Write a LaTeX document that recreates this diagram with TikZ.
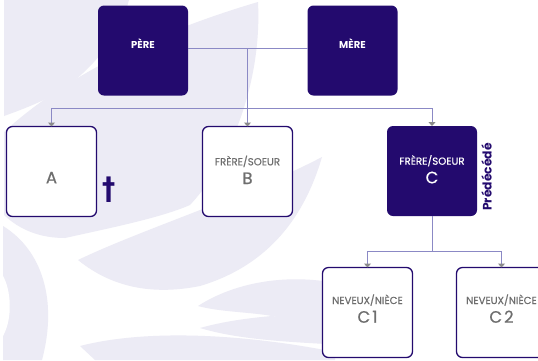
\documentclass[tikz,border=0pt]{standalone}
\usepackage{fontspec}
\setmainfont{Poppins}
\newfontfamily\medfont{Poppins}[FakeBold=0.6]
\newfontfamily\symfont{DejaVu Sans}
\usetikzlibrary{arrows.meta,calc}

\definecolor{ink}{HTML}{230A6E}
\definecolor{linkc}{HTML}{8B89C5}
\definecolor{tipc}{HTML}{8A8A8A}
\definecolor{txtgray}{HTML}{6E6E6E}
\definecolor{leaf}{HTML}{ECEBF5}

\tikzset{
  box/.style={minimum width=90pt, minimum height=90pt, inner sep=0pt, outer sep=0pt, rounded corners=6pt},
  darkbox/.style={box, fill=ink},
  lightbox/.style={box, fill=white, draw=ink, line width=1.3pt},
  link/.style={draw=linkc, line width=1pt},
  arrowlink/.style={link, -{Triangle[width=7pt,length=4pt,color=tipc]}},
  smalltxt/.style={font=\medfont\fontsize{10.2}{11}\selectfont, inner sep=0pt, anchor=base},
  bigtxt/.style={font=\medfont\fontsize{16.5}{18}\selectfont, inner sep=0pt, anchor=base},
  headtxt/.style={font=\fontsize{10}{11}\selectfont\bfseries, text=white, inner sep=0pt, anchor=base},
  leafshape/.style={fill=leaf},
}

\begin{document}
\begin{tikzpicture}[x=1pt,y=-1pt]
  \useasboundingbox (0,0) rectangle (538,360);
  \clip (0,0) rectangle (538,360);
  \fill[white] (0,0) rectangle (538,360);

  % faint tree of leaves in the background
  \fill[leafshape] (4,0) -- (129,0) .. controls (118,40) and (88,75) .. (52,96)
        .. controls (32,106) and (15,112) .. (4,116) -- cycle;
  \fill[leafshape] (258,2) .. controls (190,22) and (80,62) .. (4,132) -- (4,215)
        .. controls (20,230) and (40,238) .. (65,238)
        .. controls (110,228) and (160,218) .. (190,205)
        .. controls (232,160) and (262,80) .. (258,2) -- cycle;
  \fill[leafshape] (78,260) .. controls (140,230) and (250,195) .. (322,157)
        .. controls (305,215) and (270,265) .. (200,286)
        .. controls (150,296) and (110,286) .. (78,260) -- cycle;
  \fill[leafshape] (198,306) .. controls (235,282) and (290,272) .. (345,285)
        -- (345,330) -- (272,316) .. controls (250,312) and (220,312) .. (198,306) -- cycle;
  \fill[leafshape] (200,328) .. controls (225,321) and (250,318) .. (272,316)
        -- (345,325) -- (345,345) .. controls (290,342) and (240,340) .. (200,328) -- cycle;
  \fill[leafshape] (80,346) .. controls (150,328) and (250,335) .. (335,352)
        -- (335,360) -- (95,360) -- cycle;
  \fill[leafshape] (3,226) .. controls (42,250) and (58,300) .. (42,360) -- (3,360) -- cycle;
  \fill[white] (3,276) .. controls (11,290) and (13,318) .. (3,336) -- cycle;

  % parents
  \node[darkbox] (pere) at (143,50.5) {};
  \node[darkbox] (mere) at (352.5,50.5) {};
  \node[headtxt] (pere-t) at (143,48.3) {PÈRE};
  \node[headtxt] (mere-t) at (352.5,48) {MÈRE};

  % children
  \node[lightbox] (a) at (51.5,171.5) {};
  \node[lightbox] (b) at (247.5,171.5) {};
  \node[darkbox] (c) at (432,171) {};
  \node[bigtxt, text=txtgray] (a-t) at (51.5,183.3) {A};
  \node[smalltxt, text=txtgray] (b-l) at (247.5,165.3) {FRÈRE/SOEUR};
  \node[bigtxt, text=txtgray] (b-t) at (247.5,184) {B};
  \node[smalltxt, text=white] (c-l) at (432,164.7) {FRÈRE/SOEUR};
  \node[bigtxt, text=white] (c-t) at (432,183.3) {C};

  % deceased markers
  \node[inner sep=0pt, text=ink, xscale=0.85, font=\symfont\bfseries\fontsize{31}{33}\selectfont] (cross) at (109.5,190) {†};
  \node[inner sep=0pt, text=ink, rotate=90, font=\fontsize{12.3}{14}\selectfont\bfseries] (pred) at (486.5,177) {Prédécédé};

  % grandchildren
  \node[lightbox] (c1) at (367.5,312.5) {};
  \node[lightbox] (c2) at (501.5,312.5) {};
  \node[smalltxt, text=txtgray] (c1-l) at (367.5,304) {NEVEUX/NIÈCE};
  \node[bigtxt, text=txtgray] (c1-t) at (367.5,322.7) {C\kern2pt1};
  \node[smalltxt, text=txtgray] (c2-l) at (501.5,304) {NEVEUX/NIÈCE};
  \node[bigtxt, text=txtgray] (c2-t) at (501.5,322.7) {C\kern2pt2};

  % connectors
  \coordinate (join) at (247.5,48);
  \coordinate (bar) at (247.5,108);
  \coordinate (bar2) at (432,251);
  \draw[link] (pere.east |- join) -- (mere.west |- join);
  \draw[link] (a.north |- bar) -- (c.north |- bar);
  \draw[arrowlink] (join) -- (b.north);
  \draw[arrowlink] (a.north |- bar) -- (a.north);
  \draw[arrowlink] (c.north |- bar) -- (c.north);
  \draw[link] (c.south) -- (bar2);
  \draw[link] (c1.north |- bar2) -- (c2.north |- bar2);
  \draw[arrowlink] (c1.north |- bar2) -- (c1.north);
  \draw[arrowlink] (c2.north |- bar2) -- (c2.north);
\end{tikzpicture}
\end{document}
